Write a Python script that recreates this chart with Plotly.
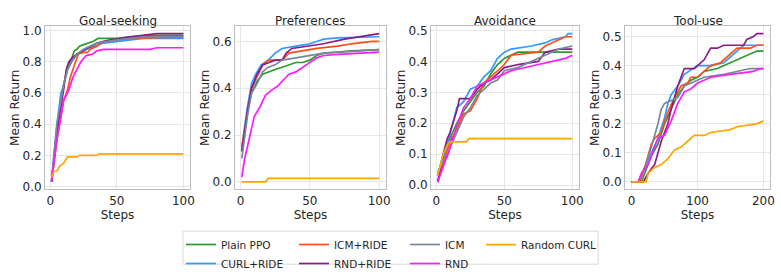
import plotly.graph_objects as go

W, H = 781, 278

series_names = ["Plain PPO", "CURL+RIDE", "ICM+RIDE", "RND+RIDE", "ICM", "RND", "Random CURL"]
series_colors = {"Plain PPO": "#2e9a2e", "CURL+RIDE": "#3399ff", "ICM+RIDE": "#ff4d1a",
                 "RND+RIDE": "#8b1a8b", "ICM": "#778899", "RND": "#ff1aff", "Random CURL": "#ffa500"}

task_titles = ["Goal-seeking", "Preferences", "Avoidance", "Tool-use"]

# ---- Goal-seeking ----
gs_ppo_x = [1, 5, 10, 13, 16, 18, 20, 22, 25, 28, 32, 36, 50, 60, 80, 100]
gs_ppo_y = [0.03, 0.35, 0.65, 0.77, 0.82, 0.87, 0.88, 0.90, 0.91, 0.92, 0.93, 0.95, 0.95, 0.96, 0.97, 0.97]
gs_curl_x = [1, 5, 8, 10, 13, 16, 20, 25, 30, 40, 50, 70, 100]
gs_curl_y = [0.04, 0.40, 0.60, 0.65, 0.75, 0.80, 0.85, 0.87, 0.89, 0.92, 0.93, 0.95, 0.95]
gs_icmr_x = [1, 5, 10, 13, 15, 17, 19, 21, 25, 28, 30, 35, 40, 60, 100]
gs_icmr_y = [0.03, 0.30, 0.55, 0.62, 0.70, 0.75, 0.80, 0.85, 0.86, 0.86, 0.88, 0.90, 0.93, 0.95, 0.96]
gs_rndr_x = [1, 5, 10, 12, 14, 17, 22, 28, 35, 45, 60, 80, 100]
gs_rndr_y = [0.03, 0.35, 0.62, 0.75, 0.80, 0.83, 0.86, 0.89, 0.92, 0.94, 0.96, 0.98, 0.98]
gs_icm_x = [1, 5, 10, 13, 16, 20, 25, 35, 50, 70, 100]
gs_icm_y = [0.04, 0.40, 0.65, 0.75, 0.80, 0.85, 0.88, 0.92, 0.94, 0.96, 0.96]
gs_rnd_x = [1, 5, 10, 14, 17, 20, 23, 27, 32, 35, 40, 75, 80, 100]
gs_rnd_y = [0.03, 0.30, 0.55, 0.62, 0.70, 0.75, 0.80, 0.84, 0.85, 0.87, 0.88, 0.88, 0.89, 0.89]
gs_rand_x = [1, 3, 5, 7, 10, 13, 20, 22, 35, 37, 100]
gs_rand_y = [0.06, 0.10, 0.10, 0.13, 0.15, 0.19, 0.19, 0.20, 0.20, 0.21, 0.21]

# ---- Preferences ----
pr_ppo_x = [1, 5, 8, 12, 16, 20, 25, 30, 35, 40, 45, 50, 55, 60, 70, 80, 100]
pr_ppo_y = [0.13, 0.30, 0.38, 0.43, 0.46, 0.47, 0.48, 0.49, 0.50, 0.51, 0.51, 0.52, 0.54, 0.55, 0.555, 0.56, 0.565]
pr_curl_x = [1, 5, 8, 11, 15, 20, 25, 30, 40, 50, 55, 60, 70, 100]
pr_curl_y = [0.15, 0.32, 0.42, 0.46, 0.50, 0.52, 0.55, 0.57, 0.58, 0.59, 0.60, 0.61, 0.615, 0.62]
pr_icmr_x = [1, 5, 8, 12, 16, 20, 30, 35, 45, 55, 70, 80, 95, 100]
pr_icmr_y = [0.15, 0.30, 0.40, 0.45, 0.50, 0.52, 0.52, 0.55, 0.56, 0.57, 0.58, 0.59, 0.60, 0.60]
pr_rndr_x = [1, 5, 8, 12, 16, 20, 25, 30, 33, 37, 50, 60, 75, 85, 95, 100]
pr_rndr_y = [0.13, 0.30, 0.40, 0.46, 0.50, 0.51, 0.52, 0.52, 0.55, 0.57, 0.58, 0.59, 0.61, 0.62, 0.63, 0.633]
pr_icm_x = [1, 5, 8, 12, 16, 20, 25, 30, 40, 50, 60, 75, 100]
pr_icm_y = [0.10, 0.28, 0.38, 0.42, 0.47, 0.49, 0.50, 0.52, 0.53, 0.54, 0.55, 0.555, 0.565]
pr_rnd_x = [1, 3, 5, 8, 10, 14, 18, 22, 27, 30, 35, 40, 45, 50, 55, 60, 70, 100]
pr_rnd_y = [0.02, 0.10, 0.15, 0.23, 0.28, 0.32, 0.37, 0.39, 0.41, 0.43, 0.46, 0.47, 0.49, 0.51, 0.53, 0.54, 0.545, 0.554]
pr_rand_x = [1, 18, 20, 100]
pr_rand_y = [0.0, 0.0, 0.015, 0.015]

# ---- Avoidance ----
av_ppo_x = [1, 5, 10, 15, 20, 25, 30, 35, 40, 45, 50, 55, 60, 100]
av_ppo_y = [0.03, 0.10, 0.15, 0.20, 0.24, 0.27, 0.30, 0.32, 0.36, 0.39, 0.41, 0.42, 0.43, 0.43]
av_curl_x = [1, 5, 10, 13, 15, 20, 25, 30, 35, 40, 45, 50, 55, 70, 80, 85, 95, 97, 100]
av_curl_y = [0.01, 0.08, 0.16, 0.22, 0.25, 0.27, 0.31, 0.32, 0.35, 0.37, 0.41, 0.43, 0.44, 0.45, 0.46, 0.47, 0.48, 0.49, 0.49]
av_icmr_x = [1, 5, 10, 15, 20, 25, 30, 35, 40, 45, 50, 55, 75, 80, 90, 95, 100]
av_icmr_y = [0.01, 0.07, 0.14, 0.18, 0.23, 0.24, 0.28, 0.33, 0.35, 0.37, 0.39, 0.42, 0.43, 0.45, 0.47, 0.48, 0.48]
av_rndr_x = [1, 5, 8, 10, 15, 17, 25, 30, 35, 40, 45, 50, 60, 75, 80, 90, 100]
av_rndr_y = [0.01, 0.10, 0.15, 0.17, 0.24, 0.28, 0.28, 0.31, 0.33, 0.34, 0.36, 0.38, 0.39, 0.40, 0.43, 0.44, 0.44]
av_icm_x = [1, 5, 8, 10, 15, 20, 25, 30, 35, 40, 45, 50, 60, 70, 80, 90, 100]
av_icm_y = [0.04, 0.08, 0.09, 0.12, 0.17, 0.22, 0.25, 0.29, 0.31, 0.33, 0.34, 0.37, 0.38, 0.40, 0.42, 0.44, 0.45]
av_rnd_x = [1, 5, 10, 15, 20, 25, 30, 35, 40, 45, 50, 55, 75, 85, 95, 100]
av_rnd_y = [0.01, 0.06, 0.12, 0.19, 0.25, 0.28, 0.32, 0.33, 0.34, 0.35, 0.36, 0.37, 0.39, 0.40, 0.41, 0.42]
av_rand_x = [1, 5, 8, 10, 22, 24, 100]
av_rand_y = [0.03, 0.10, 0.13, 0.14, 0.14, 0.15, 0.15]

# ---- Tool-use ----
tu_ppo_x = [0, 15, 20, 25, 30, 40, 50, 60, 70, 80, 90, 100, 110, 130, 150, 170, 180, 190, 200]
tu_ppo_y = [0, 0, 0.03, 0.06, 0.09, 0.13, 0.20, 0.25, 0.30, 0.33, 0.35, 0.36, 0.38, 0.39, 0.41, 0.43, 0.44, 0.45, 0.45]
tu_curl_x = [0, 12, 20, 30, 40, 50, 55, 60, 70, 80, 100, 120, 140, 150, 160, 170, 200]
tu_curl_y = [0, 0, 0.05, 0.10, 0.15, 0.22, 0.27, 0.30, 0.33, 0.37, 0.40, 0.40, 0.41, 0.43, 0.45, 0.47, 0.47]
tu_icmr_x = [0, 12, 20, 30, 35, 45, 55, 65, 75, 85, 90, 100, 110, 120, 135, 150, 160, 180, 190, 200]
tu_icmr_y = [0, 0, 0.05, 0.13, 0.15, 0.17, 0.24, 0.29, 0.33, 0.34, 0.36, 0.36, 0.38, 0.40, 0.41, 0.44, 0.46, 0.46, 0.47, 0.47]
tu_rndr_x = [0, 18, 25, 35, 40, 45, 55, 60, 70, 80, 95, 100, 110, 120, 130, 140, 170, 175, 185, 190, 200]
tu_rndr_y = [0, 0, 0.03, 0.06, 0.10, 0.14, 0.20, 0.25, 0.33, 0.39, 0.39, 0.40, 0.42, 0.46, 0.46, 0.47, 0.47, 0.49, 0.50, 0.51, 0.51]
tu_icm_x = [0, 10, 20, 30, 40, 45, 50, 60, 70, 80, 100, 110, 140, 160, 180, 200]
tu_icm_y = [0, 0, 0.05, 0.12, 0.20, 0.25, 0.27, 0.28, 0.29, 0.33, 0.35, 0.36, 0.37, 0.38, 0.39, 0.39]
tu_rnd_x = [0, 10, 15, 25, 35, 40, 50, 60, 70, 80, 90, 100, 110, 120, 150, 185, 195, 200]
tu_rnd_y = [0, 0, 0.03, 0.06, 0.12, 0.15, 0.16, 0.21, 0.27, 0.31, 0.32, 0.34, 0.35, 0.36, 0.37, 0.38, 0.39, 0.39]
tu_rand_x = [0, 22, 25, 35, 45, 55, 65, 75, 85, 95, 110, 120, 150, 160, 190, 200]
tu_rand_y = [0, 0, 0.03, 0.05, 0.06, 0.08, 0.11, 0.12, 0.14, 0.16, 0.16, 0.17, 0.18, 0.19, 0.20, 0.21]

tasks = [
    {"Plain PPO": (gs_ppo_x, gs_ppo_y), "CURL+RIDE": (gs_curl_x, gs_curl_y), "ICM+RIDE": (gs_icmr_x, gs_icmr_y),
     "RND+RIDE": (gs_rndr_x, gs_rndr_y), "ICM": (gs_icm_x, gs_icm_y), "RND": (gs_rnd_x, gs_rnd_y),
     "Random CURL": (gs_rand_x, gs_rand_y)},
    {"Plain PPO": (pr_ppo_x, pr_ppo_y), "CURL+RIDE": (pr_curl_x, pr_curl_y), "ICM+RIDE": (pr_icmr_x, pr_icmr_y),
     "RND+RIDE": (pr_rndr_x, pr_rndr_y), "ICM": (pr_icm_x, pr_icm_y), "RND": (pr_rnd_x, pr_rnd_y),
     "Random CURL": (pr_rand_x, pr_rand_y)},
    {"Plain PPO": (av_ppo_x, av_ppo_y), "CURL+RIDE": (av_curl_x, av_curl_y), "ICM+RIDE": (av_icmr_x, av_icmr_y),
     "RND+RIDE": (av_rndr_x, av_rndr_y), "ICM": (av_icm_x, av_icm_y), "RND": (av_rnd_x, av_rnd_y),
     "Random CURL": (av_rand_x, av_rand_y)},
    {"Plain PPO": (tu_ppo_x, tu_ppo_y), "CURL+RIDE": (tu_curl_x, tu_curl_y), "ICM+RIDE": (tu_icmr_x, tu_icmr_y),
     "RND+RIDE": (tu_rndr_x, tu_rndr_y), "ICM": (tu_icm_x, tu_icm_y), "RND": (tu_rnd_x, tu_rnd_y),
     "Random CURL": (tu_rand_x, tu_rand_y)},
]

x_ticks = [[0, 50, 100], [0, 50, 100], [0, 50, 100], [0, 100, 200]]
y_ticks = [[0.0, 0.2, 0.4, 0.6, 0.8, 1.0], [0.0, 0.2, 0.4, 0.6],
           [0.0, 0.1, 0.2, 0.3, 0.4, 0.5], [0.0, 0.1, 0.2, 0.3, 0.4, 0.5]]
x_ranges = [[-3.95, 104.95], [-3.95, 104.95], [-3.95, 104.95], [-10, 210]]
y_ranges = [[-0.018, 1.028], [-0.032, 0.665], [-0.014, 0.514], [-0.0255, 0.5355]]

# layout geometry (pixels)
frames_x = [(45, 190), (235, 386), (431, 579), (625, 770)]
frame_top, frame_bot = 27, 195

# legend columns: which legend each series goes to
legend_of = {"Plain PPO": "legend", "CURL+RIDE": "legend", "ICM+RIDE": "legend2", "RND+RIDE": "legend2",
             "ICM": "legend3", "RND": "legend3", "Random CURL": "legend4"}

FONT = "DejaVu Sans"
TXT = "#262626"

fig = go.Figure()
for i, data in enumerate(tasks):
    xa = "x" if i == 0 else f"x{i+1}"
    ya = "y" if i == 0 else f"y{i+1}"
    for name in series_names:
        xs, ys = data[name]
        fig.add_trace(go.Scatter(
            x=xs, y=ys, mode="lines", name=name, xaxis=xa, yaxis=ya,
            line=dict(color=series_colors[name], width=1.7),
            showlegend=(i == 0), legend=legend_of[name]))

axis_common = dict(showgrid=True, gridcolor="#e6e6e6", gridwidth=1, zeroline=False,
                   showline=True, linecolor="#bdbdbd", linewidth=1, mirror=True,
                   ticks="", automargin=False,
                   tickfont=dict(family=FONT, size=12, color=TXT))
layout = {}
annotations = []
for i in range(4):
    l, r = frames_x[i]
    xkey = "xaxis" if i == 0 else f"xaxis{i+1}"
    ykey = "yaxis" if i == 0 else f"yaxis{i+1}"
    xanchor = "y" if i == 0 else f"y{i+1}"
    yanchor = "x" if i == 0 else f"x{i+1}"
    layout[xkey] = dict(axis_common, domain=[l / W, r / W], range=x_ranges[i], anchor=xanchor,
                        tickvals=x_ticks[i], ticktext=[str(v) for v in x_ticks[i]],
                        title=dict(text="Steps", font=dict(family=FONT, size=12, color=TXT), standoff=0))
    layout[ykey] = dict(axis_common, domain=[1 - frame_bot / H, 1 - frame_top / H], range=y_ranges[i],
                        anchor=yanchor, tickvals=y_ticks[i], ticktext=[f"{v:.1f}" for v in y_ticks[i]],
                        title=dict(text="Mean Return", font=dict(family=FONT, size=12, color=TXT), standoff=0))
    annotations.append(dict(text=task_titles[i], x=(l + r) / 2 / W, y=1 - 22 / H, xref="paper", yref="paper",
                            xanchor="center", yanchor="middle", showarrow=False,
                            font=dict(family=FONT, size=12, color=TXT)))

leg_common = dict(orientation="v", bgcolor="rgba(0,0,0,0)", borderwidth=0,
                  font=dict(family=FONT, size=10.5, color=TXT), xanchor="left", yanchor="top",
                  y=1 - 237 / H, itemwidth=30, tracegroupgap=0)
layout["legend"] = dict(leg_common, x=181 / W)
layout["legend2"] = dict(leg_common, x=294 / W)
layout["legend3"] = dict(leg_common, x=405 / W)
layout["legend4"] = dict(leg_common, x=481 / W)

fig.update_layout(
    width=W, height=H, margin=dict(l=0, r=0, t=0, b=0),
    paper_bgcolor="white", plot_bgcolor="white",
    font=dict(family=FONT, color=TXT),
    annotations=annotations,
    shapes=[dict(type="rect", xref="paper", yref="paper", x0=183 / W, x1=598 / W,
                 y0=1 - 272 / H, y1=1 - 238 / H, line=dict(color="#d9d9d9", width=1))],
    **layout)

fig.write_html("out.html", config={"displayModeBar": False},
               post_script="document.body.style.margin='0';document.body.style.overflow='hidden';")
